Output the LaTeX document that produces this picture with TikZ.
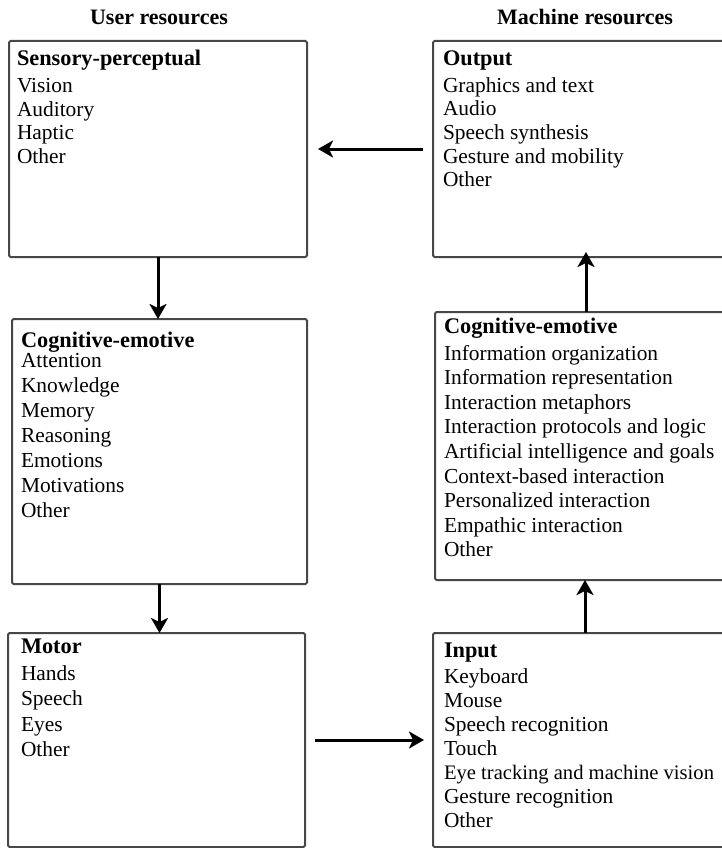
\documentclass[tikz,border=0pt]{standalone}
\usepackage{fontspec}
\setmainfont{Liberation Serif}
\usetikzlibrary{arrows.meta}
\newcommand{\bhead}[1]{{\fontsize{22.3}{23}\selectfont\bfseries #1}}
\begin{document}
\begin{tikzpicture}[x=1pt,y=-1pt,
  box/.style={draw=black!72, line width=2pt, rounded corners=1.5pt, inner sep=0pt, outer sep=0pt},
  txt/.style={anchor=base west, inner sep=0pt, outer sep=0pt, align=left},
  hdr/.style={inner sep=0pt, anchor=base, font=\fontsize{22}{24}\selectfont\bfseries},
  arr/.style={line width=3pt, draw=black, -{Stealth[length=15pt,width=17pt,inset=4pt]}}]
\useasboundingbox (0,0) rectangle (722,848);
\clip (0,0) rectangle (722,848);
% headers
\node[hdr] (hu) at (159,24.5) {User resources};
\node[hdr] (hm) at (585,24.5) {Machine resources};
% boxes
\node[box, minimum width=298pt, minimum height=216pt] (S) at (158,149) {};
\node[box, minimum width=295pt, minimum height=265pt] (C) at (159.5,451.5) {};
\node[box, minimum width=297pt, minimum height=214pt] (M) at (156.5,740) {};
\node[box, minimum width=304pt, minimum height=216pt] (O) at (585,149) {};
\node[box, minimum width=302pt, minimum height=268pt] (CM) at (586,446) {};
\node[box, minimum width=304pt, minimum height=214pt] (I) at (585,740) {};
% texts (anchored at the baseline of their last line)
\node[txt, font=\fontsize{21.4}{23.5}\selectfont] (St) at (17,163.2)
  {\bhead{Sensory-perceptual}\\[3.7pt]Vision\\Auditory\\Haptic\\Other};
\node[txt, font=\fontsize{21.4}{23.7}\selectfont] (Ot) at (443,186.8)
  {\bhead{Output}\\[2.8pt]Graphics and text\\Audio\\Speech synthesis\\Gesture and mobility\\Other};
\node[txt, font=\fontsize{21.4}{25}\selectfont] (Ct) at (21,517)
  {\bhead{Cognitive-emotive}\\[-5pt]Attention\\Knowledge\\Memory\\Reasoning\\Emotions\\Motivations\\Other};
\node[txt, font=\fontsize{21.4}{24.6}\selectfont] (CMt) at (444,556.8)
  {\bhead{Cognitive-emotive}\\[2.4pt]Information organization\\Information representation\\Interaction metaphors\\Interaction protocols and logic\\Artificial intelligence and goals\\Context-based interaction\\Personalized interaction\\Empathic interaction\\Other};
\node[txt, font=\fontsize{21.4}{25.5}\selectfont] (Mt) at (21,756.5)
  {\bhead{Motor}\\[1.5pt]Hands\\Speech\\Eyes\\Other};
\node[txt, font=\fontsize{21.4}{24}\selectfont] (It) at (444,827)
  {\bhead{Input}\\[2pt]Keyboard\\Mouse\\Speech recognition\\Touch\\{\fontsize{20.6}{24}\selectfont Eye tracking and machine vision}\\Gesture recognition\\Other};
% connectors
\draw[arr] ([xshift=-10pt]O.west) -- ([xshift=11pt]S.east);
\draw[arr] (S.south) -- (S.south |- C.north);
\draw[arr] (C.south) -- (C.south |- M.north);
\draw[arr] ([xshift=10pt]M.east) -- ([xshift=-9pt]I.west);
\draw[arr] (I.north) -- (I.north |- CM.south);
\draw[arr] (CM.north) -- ([yshift=5pt]CM.north |- O.south);
\end{tikzpicture}
\end{document}
